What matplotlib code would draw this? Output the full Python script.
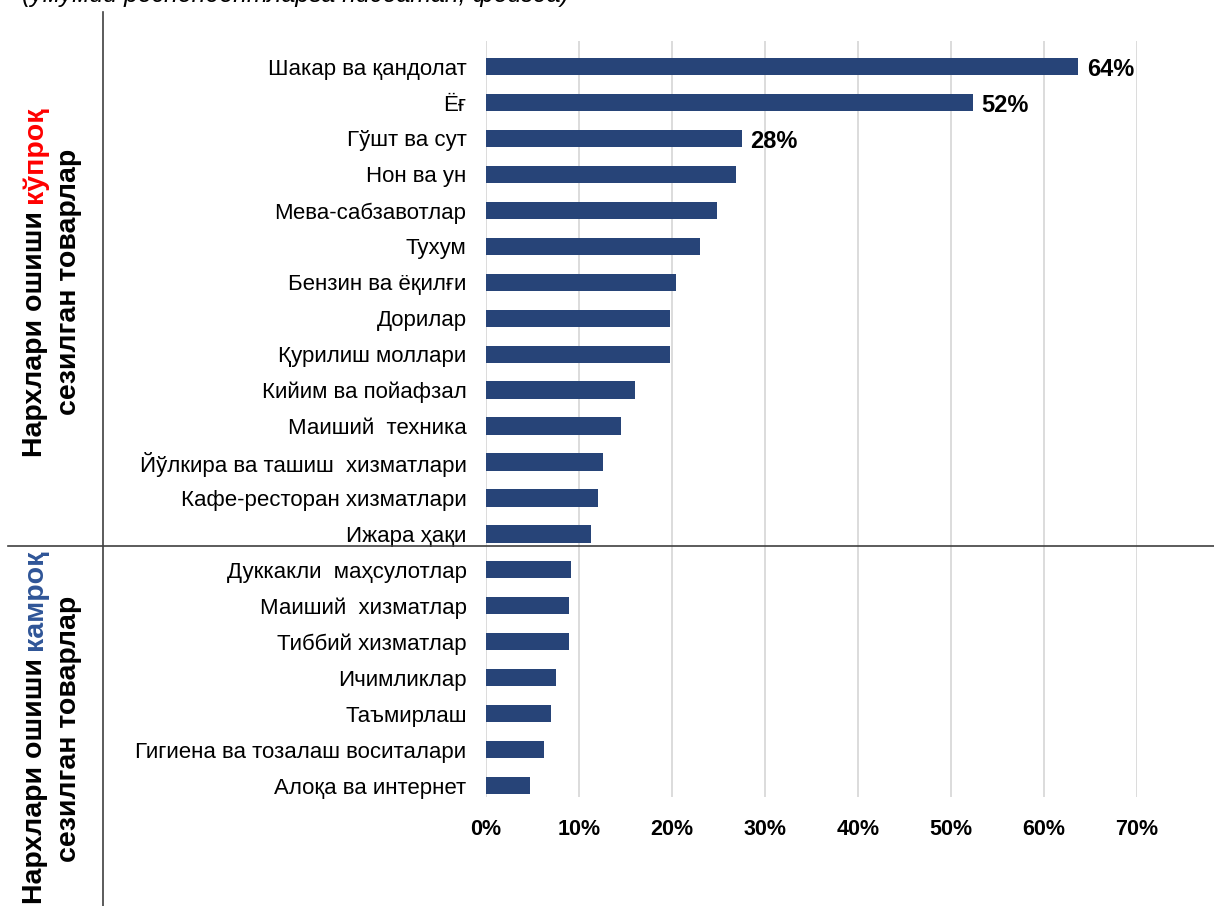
import matplotlib.pyplot as plt
from matplotlib import font_manager
from matplotlib.lines import Line2D

# data
categories = ["Шакар ва қандолат", "Ёғ", "Гўшт ва сут", "Нон ва ун", "Мева-сабзавотлар",
              "Тухум", "Бензин ва ёқилғи", "Дорилар", "Қурилиш моллари",
              "Кийим ва пойафзал", "Маиший  техника", "Йўлкира ва ташиш  хизматлари",
              "Кафе-ресторан хизматлари", "Ижара ҳақи",
              "Дуккакли  маҳсулотлар", "Маиший  хизматлар", "Тиббий хизматлар",
              "Ичимликлар", "Таъмирлаш", "Гигиена ва тозалаш воситалари",
              "Алоқа ва интернет"]
values = [63.7, 52.4, 27.5, 26.9, 24.8, 23.0, 20.4, 19.8, 19.8, 16.0, 14.5,
          12.6, 12.0, 11.3, 9.1, 8.9, 8.9, 7.5, 7.0, 6.2, 4.7]
bar_labels = ["64%", "52%", "28%"] + [""] * 18
x_ticks = [0, 10, 20, 30, 40, 50, 60, 70]

BAR_COLOR = "#274478"

installed = {f.name for f in font_manager.fontManager.ttflist}
narrow = "Liberation Sans Narrow" if "Liberation Sans Narrow" in installed else "Liberation Sans"
plt.rcParams['font.family'] = ['Liberation Sans', 'DejaVu Sans']

fig = plt.figure(figsize=(12.14, 9.06), dpi=100)
ax = fig.add_axes([0.4003, 0.1203, 0.5363, 0.8344])

ypos = list(range(len(categories)))
bars = ax.barh(ypos, values, height=0.48, color=BAR_COLOR, zorder=3)
ax.set_ylim(20.32, -0.71)
ax.set_xlim(0, 70)

for b, lab in zip(bars, bar_labels):
    if lab:
        ax.annotate(lab, (b.get_width(), b.get_y() + b.get_height() / 2),
                    xytext=(6, -2), textcoords='offset points', va='center', ha='left',
                    fontsize=17, fontweight='bold', color='black')

ax.set_yticks(ypos)
ax.set_yticklabels(categories, fontsize=16)
ax.set_xticks(x_ticks)
ax.set_xticklabels([f"{t}%" for t in x_ticks], fontsize=15.5, fontweight='bold',
                   family=[narrow, 'DejaVu Sans'])
ax.tick_params(axis='y', length=0, pad=14)
ax.tick_params(axis='x', length=0, pad=16)
ax.grid(axis='x', color='#D9D9D9', linewidth=1.3, zorder=0)
for s in ax.spines.values():
    s.set_visible(False)

# separator lines
W, H = 1214.0, 906.0
fig.add_artist(Line2D([103 / W, 103 / W], [0, 1 - 12 / H], color='#404040', lw=1.2))
fig.add_artist(Line2D([8 / W, 1], [1 - 546 / H, 1 - 546 / H], color='#404040', lw=1.2))

# subtitle, cut off at the top edge as in the reference
fig.text(22 / W, 1 - 2 / H, "(умумий респондентларга нисбатан, фоизда)", fontsize=18,
         style='italic', ha='left', va='baseline')

renderer = fig.canvas.get_renderer()


def side_line(x_px, yc_px, parts, size):
    # rotated line made of pieces with different colours, read bottom to top
    texts = []
    for txt, col in parts:
        t = fig.text(0, 0, txt, rotation=90, fontsize=size, fontweight='bold', color=col,
                     ha='center', va='bottom')
        texts.append(t)
    heights = [t.get_window_extent(renderer).height for t in texts]
    total = sum(heights)
    y = (H - yc_px) - total / 2
    for t, h in zip(texts, heights):
        t.set_position((x_px / W, y / H))
        y += h


side_line(35, 282, [("Нархлари ошиши ", 'black'), ("кўпроқ", '#FF0000')], 20.5)
side_line(69, 282, [("сезилган товарлар", 'black')], 20.5)
side_line(35, 727, [("Нархлари ошиши ", 'black'), ("камроқ", '#2F5597')], 20.5)
side_line(69, 729, [("сезилган товарлар", 'black')], 20.5)

fig.savefig("out.png", dpi=100)
